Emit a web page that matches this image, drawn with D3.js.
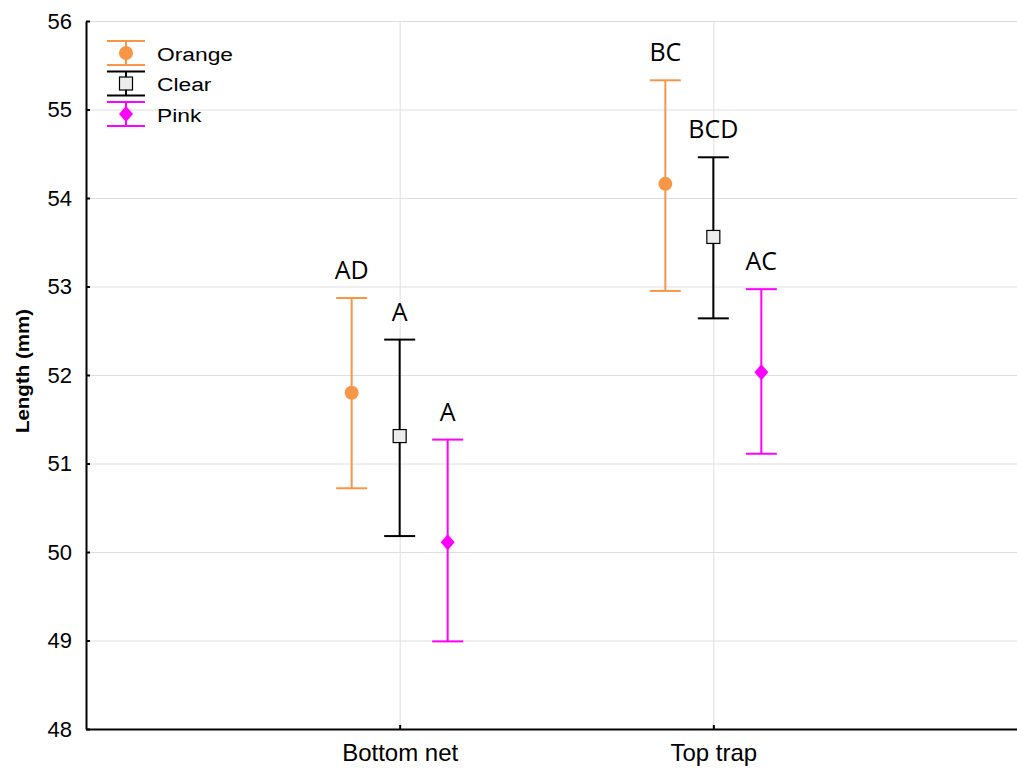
<!DOCTYPE html>
<html>
<head>
<meta charset="utf-8">
<style>
  body { margin: 0; background: #fff; }
  svg { display: block; }
  .grid line { stroke: #dedede; stroke-width: 1; }
  .grid path { display: none; }
  .axis path, .axis line { stroke: #000; }
  .axis text { font-family: "Liberation Sans", Arial, sans-serif; fill: #000; }
</style>
</head>
<body>
<script src="https://cdnjs.cloudflare.com/ajax/libs/d3/7.8.5/d3.min.js"></script>
<script>

// data
var categories = ["Bottom net", "Top trap"];
var seriesNames = ["Orange", "Clear", "Pink"];
var seriesColors = ["#f79646", "#000000", "#ff00ff"];
var orangeMean = [51.80, 54.16];
var orangeLow = [50.72, 52.95];
var orangeHigh = [52.87, 55.33];
var clearMean = [51.31, 53.56];
var clearLow = [50.18, 52.64];
var clearHigh = [52.40, 54.46];
var pinkMean = [50.11, 52.03];
var pinkLow = [48.99, 51.11];
var pinkHigh = [51.27, 52.97];
var orangeLetters = ["AD", "BC"];
var clearLetters = ["A", "BCD"];
var pinkLetters = ["A", "AC"];
var yTicks = [48, 49, 50, 51, 52, 53, 54, 55, 56];

var series = [
  {name: "Orange", mean: orangeMean, low: orangeLow, high: orangeHigh, letters: orangeLetters, shape: "circle"},
  {name: "Clear", mean: clearMean, low: clearLow, high: clearHigh, letters: clearLetters, shape: "square"},
  {name: "Pink", mean: pinkMean, low: pinkLow, high: pinkHigh, letters: pinkLetters, shape: "diamond"}
];

var W = 1017, H = 768;
var margin = {top: 21, left: 86, bottom: 39};

var svg = d3.select("body").append("svg")
    .attr("width", W)
    .attr("height", H);

// x is a linear position 0..3, categories sit at 1 and 2
var x = d3.scaleLinear().domain([0, 3]).range([margin.left, 1027]);
var y = d3.scaleLinear().domain([48, 56]).range([H - margin.bottom, margin.top]);
var offset = d3.scalePoint().domain(seriesNames).range([-48, 48]);

// gridlines
svg.append("g")
    .attr("class", "grid")
    .attr("transform", "translate(" + margin.left + ",0)")
    .call(d3.axisLeft(y).tickValues(yTicks).tickSize(-(W - margin.left)).tickFormat(""));
svg.append("g")
    .attr("class", "grid")
    .attr("transform", "translate(0," + y(48) + ")")
    .call(d3.axisBottom(x).tickValues([1, 2]).tickSize(-(y(48) - y(56))).tickFormat(""));

// axes
var yAxis = svg.append("g")
    .attr("class", "axis")
    .attr("transform", "translate(" + margin.left + ",0)")
    .call(d3.axisLeft(y).tickValues(yTicks).tickSize(-4).tickPadding(14).tickSizeOuter(0));
yAxis.select(".domain").attr("stroke-width", 2);
yAxis.selectAll(".tick line").attr("stroke-width", 2);
yAxis.selectAll(".tick text").style("font-size", "22px");

var xAxis = svg.append("g")
    .attr("class", "axis")
    .attr("transform", "translate(0," + y(48) + ")")
    .call(d3.axisBottom(x).tickValues([1, 2]).tickSize(-4).tickPadding(12).tickSizeOuter(0)
        .tickFormat(function(d) { return categories[d - 1]; }));
xAxis.select(".domain").attr("stroke-width", 2);
xAxis.selectAll(".tick line").attr("stroke-width", 2);
xAxis.selectAll(".tick text").style("font-size", "24px").attr("dy", "0.85em");

// y label
svg.append("text")
    .attr("transform", "translate(29," + 371 + ") rotate(-90) scale(1.14,1)")
    .attr("text-anchor", "middle")
    .style("font-family", "'Liberation Sans', Arial, sans-serif")
    .style("font-size", "18px")
    .style("font-weight", "bold")
    .text("Length (mm)");

function drawMarker(g, shape, cx, cy, color) {
  if (shape === "circle") {
    g.append("circle").attr("cx", cx).attr("cy", cy).attr("r", 7).attr("fill", color);
  } else if (shape === "square") {
    g.append("rect").attr("x", cx - 6.5).attr("y", cy - 6.5).attr("width", 13).attr("height", 13)
        .attr("fill", "#ececec").attr("stroke", "#000").attr("stroke-width", 1.2);
  } else {
    g.append("path").attr("d", "M" + cx + "," + (cy - 8) + "L" + (cx + 7) + "," + cy + "L" + cx + "," + (cy + 8) + "L" + (cx - 7) + "," + cy + "Z")
        .attr("fill", color);
  }
}

var capW = 15.5;
var marks = svg.append("g");
series.forEach(function(s, si) {
  var color = seriesColors[si];
  categories.forEach(function(c, ci) {
    var cx = x(ci + 1) + offset(s.name);
    var g = marks.append("g");
    g.append("line").attr("x1", cx).attr("x2", cx).attr("y1", y(s.low[ci])).attr("y2", y(s.high[ci]))
        .attr("stroke", color).attr("stroke-width", 2);
    [s.low[ci], s.high[ci]].forEach(function(v) {
      g.append("line").attr("x1", cx - capW).attr("x2", cx + capW).attr("y1", y(v)).attr("y2", y(v))
          .attr("stroke", color).attr("stroke-width", 2);
    });
    drawMarker(g, s.shape, cx, y(s.mean[ci]), color);
    g.append("text")
        .attr("x", cx)
        .attr("y", y(s.high[ci]) - 19)
        .attr("text-anchor", "middle")
        .style("font-family", "'Open Sans', sans-serif")
        .style("font-size", "25px")
        .text(s.letters[ci]);
  });
});

// legend
var legend = svg.append("g");
series.forEach(function(s, i) {
  var color = seriesColors[i];
  var cy = 53 + i * 30.5;
  var lx = 126;
  var g = legend.append("g");
  g.append("line").attr("x1", lx).attr("x2", lx).attr("y1", cy - 12).attr("y2", cy + 12)
      .attr("stroke", color).attr("stroke-width", 2);
  [cy - 12, cy + 12].forEach(function(yy) {
    g.append("line").attr("x1", lx - 19).attr("x2", lx + 19).attr("y1", yy).attr("y2", yy)
        .attr("stroke", color).attr("stroke-width", 2);
  });
  drawMarker(g, s.shape, lx, cy, color);
  g.append("text")
      .attr("transform", "translate(157," + (cy + 7.5) + ") scale(1.2,1)")
      .style("font-family", "'Liberation Sans', Arial, sans-serif")
      .style("font-size", "19px")
      .text(s.name);
});

</script>
</body>
</html>
